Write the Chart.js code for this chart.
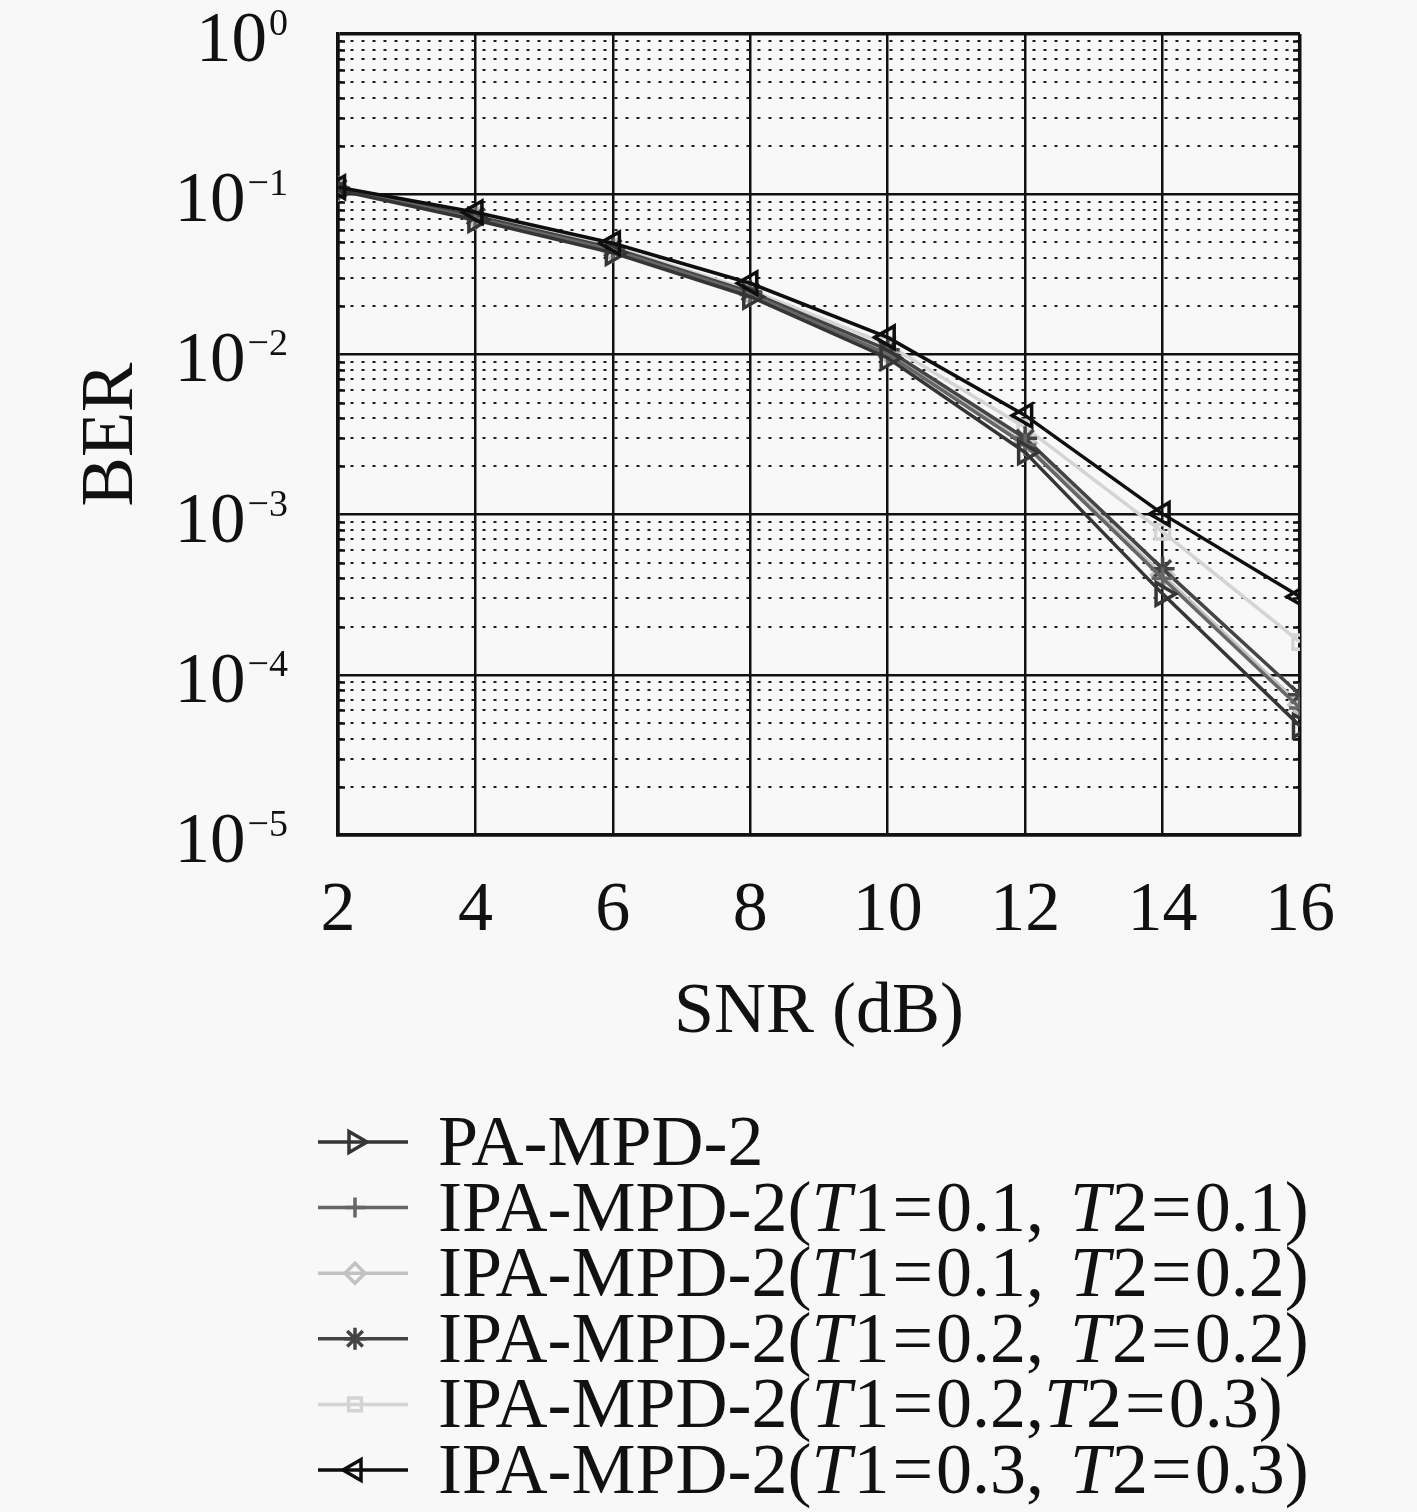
<!DOCTYPE html>
<html>
<head>
<meta charset="utf-8">
<title>BER vs SNR</title>
<script src="https://cdn.jsdelivr.net/npm/chart.js@4.4.1/dist/chart.umd.min.js"></script>
<style>
  html, body { margin: 0; padding: 0; background: #f8f8f8; }
  #wrap { width: 1417px; height: 1512px; }
</style>
</head>
<body>
<div id="wrap"><canvas id="berChart" width="1417" height="1512"></canvas></div>
<script>
// SNR points (dB)
const snr = [2, 4, 6, 8, 10, 12, 14, 16];

// BER
const berPA      = [0.106, 0.069, 0.043, 0.0229, 0.0095, 0.00245, 3.2e-4, 4.8e-5];
const berT11T21  = [0.108, 0.0709, 0.0447, 0.0238, 0.0100, 0.00272, 4.0e-4, 6.2e-5];
const berT11T22  = [0.108, 0.072, 0.045, 0.0241, 0.0104, 0.0028, 4.2e-4, 6.5e-5];
const berT12T22  = [0.109, 0.073, 0.046, 0.0245, 0.0107, 0.0030, 4.6e-4, 7.5e-5];
const berT12T23  = [0.109, 0.074, 0.047, 0.0252, 0.0115, 0.0035, 7.8e-4, 1.6e-4];
const berT13T23  = [0.1106, 0.0772, 0.0494, 0.0278, 0.01277, 0.00416, 1.01e-3, 3.07e-4];

const seriesNames = [
    'PA-MPD-2',
    'IPA-MPD-2(T1=0.1, T2=0.1)',
    'IPA-MPD-2(T1=0.1, T2=0.2)',
    'IPA-MPD-2(T1=0.2, T2=0.2)',
    'IPA-MPD-2(T1=0.2,T2=0.3)',
    'IPA-MPD-2(T1=0.3, T2=0.3)'
];

const xTicks = [2, 4, 6, 8, 10, 12, 14, 16];
const yDecades = [1e-5, 1e-4, 1e-3, 1e-2, 1e-1, 1];

const serif = "'Liberation Serif', 'DejaVu Serif', serif";
const bg = '#f8f8f8';

function isDecade(v) {
    const l = Math.log10(v);
    return Math.abs(l - Math.round(l)) < 1e-9;
}
function pts(values) {
    return snr.map((s, i) => ({ x: s, y: values[i] }));
}

// y ticks: every 1..9 step inside each decade
const yTickValues = [];
yDecades.forEach((d, i) => {
    if (i === yDecades.length - 1) { yTickValues.push(d); return; }
    for (let k = 1; k <= 9; k++) yTickValues.push(k * d);
});

const datasets = [
    { label: seriesNames[0], data: pts(berPA), borderColor: '#353535', pointStyle: 'triangle', pointRotation: 90, pointRadius: 13, order: 1 },
    { label: seriesNames[1], data: pts(berT11T21), borderColor: '#666666', pointStyle: 'cross', pointRotation: 0, pointRadius: 11, order: 2 },
    { label: seriesNames[2], data: pts(berT11T22), borderColor: '#c2c2c2', pointStyle: 'rectRot', pointRotation: 0, pointRadius: 11, order: 4 },
    { label: seriesNames[3], data: pts(berT12T22), borderColor: '#444444', pointStyle: 'star', pointRotation: 0, pointRadius: 12, order: 3 },
    { label: seriesNames[4], data: pts(berT12T23), borderColor: '#d4d4d4', pointStyle: 'rect', pointRotation: 0, pointRadius: 10, order: 5 },
    { label: seriesNames[5], data: pts(berT13T23), borderColor: '#0e0e0e', pointStyle: 'triangle', pointRotation: -90, pointRadius: 13, order: 0 }
].map(ds => Object.assign(ds, {
    borderWidth: 3.5,
    pointBorderColor: ds.borderColor,
    pointBackgroundColor: 'rgba(0,0,0,0)',
    pointBorderWidth: 3.5,
    tension: 0,
    fill: false
}));

const bgPlugin = {
    id: 'bgFill',
    beforeDraw(chart) {
        const c = chart.ctx;
        c.save();
        c.fillStyle = bg;
        c.fillRect(0, 0, chart.width, chart.height);
        c.restore();
    }
};

// small inward minor ticks on the left and right frame
const frameTickPlugin = {
    id: 'frameTicks',
    beforeDatasetsDraw(chart) {
        const c = chart.ctx;
        const yScale = chart.scales.y;
        const area = chart.chartArea;
        c.save();
        c.strokeStyle = '#111';
        c.lineWidth = 2.5;
        c.beginPath();
        yTickValues.forEach(v => {
            if (isDecade(v)) return;
            const py = Math.round(yScale.getPixelForValue(v)) + 0.5;
            c.moveTo(area.left, py); c.lineTo(area.left + 7, py);
            c.moveTo(area.right, py); c.lineTo(area.right - 7, py);
        });
        c.stroke();
        c.restore();
    }
};

// y tick labels as 10 with a raised exponent, placed with the log scale
const decadeLabelPlugin = {
    id: 'decadeLabels',
    afterDraw(chart) {
        const c = chart.ctx;
        const yScale = chart.scales.y;
        const right = yScale.right - 50;
        c.save();
        c.fillStyle = '#111';
        c.textBaseline = 'alphabetic';
        yDecades.forEach(d => {
            const py = yScale.getPixelForValue(d);
            const e = Math.round(Math.log10(d));
            const expText = e < 0 ? '\u2212' + String(-e) : String(e);
            c.font = `38px ${serif}`;
            const ew = c.measureText(expText).width;
            c.textAlign = 'left';
            c.fillText(expText, right - ew, py + 1);
            c.font = `71px ${serif}`;
            c.textAlign = 'right';
            c.fillText('10', right - ew - 2, py + 27);
        });
        c.restore();
    }
};

// legend drawn under the plot: line sample + marker + label with italic T
const legendPlugin = {
    id: 'berLegend',
    afterDraw(chart) {
        const c = chart.ctx;
        const size = 72;
        chart.data.datasets.forEach((ds, i) => {
            const y = 1142 + i * 65.6;
            c.save();
            c.strokeStyle = ds.borderColor;
            c.lineWidth = ds.borderWidth;
            c.beginPath();
            c.moveTo(318, y);
            c.lineTo(408, y);
            c.stroke();
            c.fillStyle = ds.pointBackgroundColor;
            c.strokeStyle = ds.pointBorderColor;
            c.lineWidth = ds.pointBorderWidth;
            Chart.helpers.drawPoint(c, {
                pointStyle: ds.pointStyle,
                rotation: ds.pointRotation,
                radius: ds.pointRadius - 1,
                borderWidth: ds.pointBorderWidth
            }, 355, y);

            c.fillStyle = '#111';
            c.textBaseline = 'alphabetic';
            c.textAlign = 'left';
            let x = 438;
            const base = y + 23;
            ds.label.split(/(T(?=\d)|=|, )/).forEach(p => {
                if (!p) return;
                if (p === 'T') {
                    c.font = `italic ${size}px ${serif}`;
                    c.fillText('T', x, base);
                    x += c.measureText('T').width + 2;
                } else if (p === '=') {
                    c.font = `${size}px ${serif}`;
                    x += 3;
                    c.fillText('=', x, base);
                    x += c.measureText('=').width + 3;
                } else if (p === ', ') {
                    c.font = `${size}px ${serif}`;
                    c.fillText(',', x, base);
                    x += c.measureText(',').width + 26;
                } else {
                    c.font = `${size}px ${serif}`;
                    c.fillText(p, x, base);
                    x += c.measureText(p).width;
                }
            });
            c.restore();
        });
    }
};

Chart.defaults.font.family = serif;
Chart.defaults.color = '#111';

const ctx = document.getElementById('berChart').getContext('2d');
const berChart = new Chart(ctx, {
    type: 'line',
    data: { datasets: datasets },
    options: {
        responsive: false,
        animation: false,
        devicePixelRatio: 1,
        layout: { padding: { left: 0, top: 34, right: 117, bottom: 452 } },
        plugins: {
            legend: { display: false },
            tooltip: { enabled: false }
        },
        scales: {
            x: {
                type: 'linear',
                min: 2,
                max: 16,
                afterBuildTicks: s => { s.ticks = xTicks.map(v => ({ value: v })); },
                afterFit: s => { s.height = 225; },
                grid: {
                    color: '#111',
                    lineWidth: c => (c.tick && c.tick.value === 16) ? 3.5 : 2.5,
                    drawTicks: false
                },
                border: { color: '#111', width: 3.5 },
                ticks: { font: { size: 70 }, padding: 35, color: '#111' },
                title: { display: true, text: 'SNR (dB)', font: { size: 72 }, color: '#111', padding: { top: 0 } }
            },
            y: {
                type: 'logarithmic',
                min: 1e-5,
                max: 1,
                afterBuildTicks: s => { s.ticks = yTickValues.map(v => ({ value: v })); },
                afterFit: s => { s.width = 338; s.paddingTop = 0; s.paddingBottom = 0; },
                grid: {
                    color: c => (c.tick && isDecade(c.tick.value)) ? '#111' : '#1e1e1e',
                    lineWidth: c => {
                        if (!c.tick) return 2.5;
                        if (c.tick.value === 1) return 3.5;
                        return isDecade(c.tick.value) ? 2.5 : 2;
                    },
                    drawTicks: false
                },
                border: {
                    color: '#111',
                    width: 3.5,
                    dash: c => (c.tick && !isDecade(c.tick.value)) ? [3, 8] : []
                },
                ticks: {
                    autoSkip: false,
                    padding: 50,
                    callback: () => ''
                },
                title: { display: true, text: 'BER', font: { size: 74 }, color: '#111', padding: { top: 68 } }
            }
        }
    },
    plugins: [bgPlugin, frameTickPlugin, decadeLabelPlugin, legendPlugin]
});
</script>
</body>
</html>
